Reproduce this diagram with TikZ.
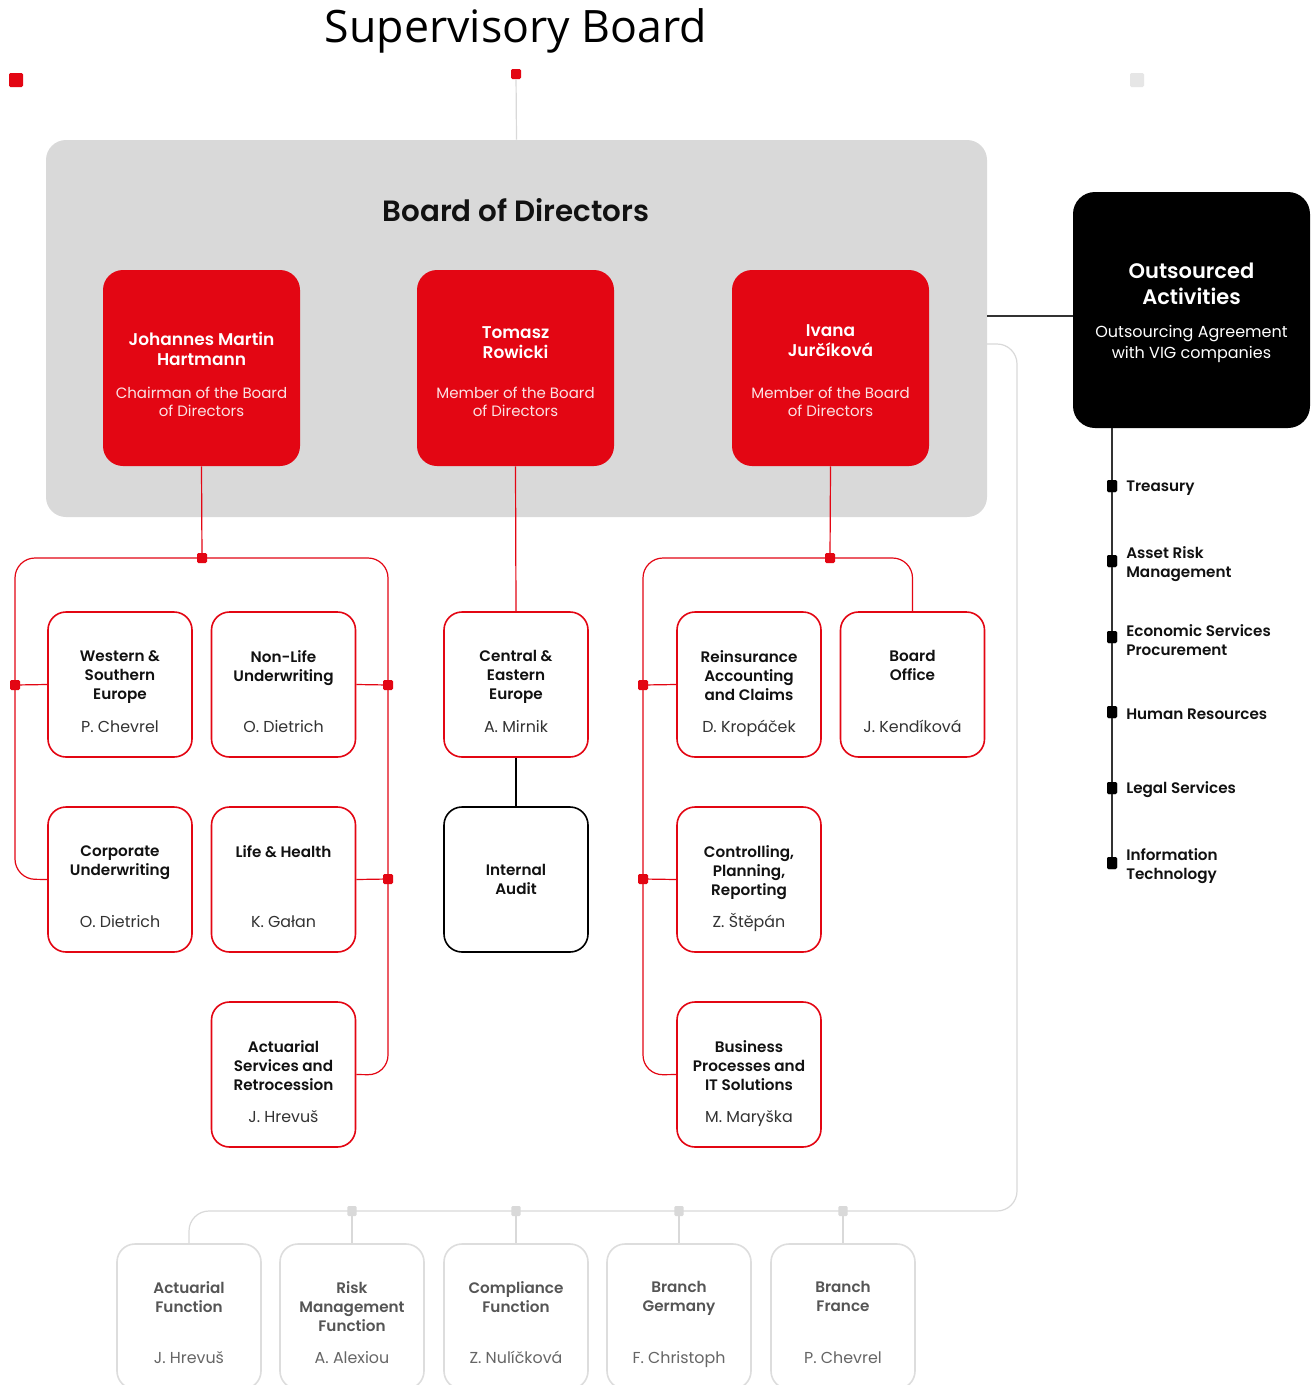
\documentclass[tikz,border=0pt]{standalone}
\usepackage{fontspec}
\setmainfont{Poppins}[BoldFont={Poppins SemiBold}]
\newfontfamily\titlefont{Open Sans}
\definecolor{vred}{HTML}{E30613}
\definecolor{lgrey}{HTML}{D9D9D9}
\definecolor{bgrey}{HTML}{DDDDDD}
\definecolor{sqgrey}{HTML}{E6E6E6}
\definecolor{txt}{HTML}{111111}
\definecolor{txtg}{HTML}{333333}
\definecolor{btitle}{HTML}{555555}
\definecolor{bname}{HTML}{666666}
\definecolor{pinkw}{HTML}{FBE3E4}
\definecolor{sline}{HTML}{333333}
\newcommand\obox[5]{%
  \node[#1] (#2) at (#3) {};
  \node[ttl] (#2t) at ([yshift=-29.25pt]#2.north) {#4};
  \node[nme] (#2n) at ([yshift=-91.1pt]#2.north) {#5};}
\newcommand\gobox[4]{%
  \node[gbox] (#1) at (#2) {};
  \node[ttl,text=btitle] (#1t) at ([yshift=-28.5pt]#1.north) {#3};
  \node[nme,text=bname] (#1n) at ([yshift=-90pt]#1.north) {#4};}
\begin{document}
\begin{tikzpicture}[x=0.75pt,y=-0.75pt,
  rline/.style={draw=vred, line width=0.9pt},
  gline/.style={draw=lgrey, line width=0.9pt},
  kline/.style={draw=sline, line width=0.9pt},
  wbox/.style={draw=vred, line width=1.2pt, fill=white, rounded corners=13.5pt,
     minimum width=108pt, minimum height=108.75pt, inner sep=0pt},
  kbox/.style={wbox, draw=black},
  gbox/.style={wbox, draw=bgrey},
  rbox/.style={fill=vred, rounded corners=15pt, minimum width=147.75pt,
     minimum height=147pt, inner sep=0pt},
  ttl/.style={font=\bfseries\fontsize{11.4}{14.25}\selectfont, align=center,
     anchor=north, inner sep=0pt, text=txt},
  nme/.style={font=\fontsize{11.9}{14.25}\selectfont, anchor=base,
     inner sep=0pt, text=txtg},
  rname/.style={font=\bfseries\fontsize{12.75}{15}\selectfont, align=center,
     anchor=north, inner sep=0pt, text=white},
  rrole/.style={font=\fontsize{11.25}{13.5}\selectfont, align=center,
     anchor=north, inner sep=0pt, text=pinkw},
  rsq/.style={fill=vred, minimum size=7.5pt, inner sep=0pt, rounded corners=1pt},
  gsq/.style={fill=lgrey, minimum width=7pt, minimum height=7.5pt, inner sep=0pt, rounded corners=1pt},
  bsq/.style={fill=black, minimum width=7.5pt, minimum height=9pt, inner sep=0pt, rounded corners=1pt},
  slab/.style={font=\bfseries\fontsize{11.4}{14.25}\selectfont, align=left,
     anchor=west, inner sep=0pt, text=txt}
]
\clip (0,0) rectangle (1314,1385);
\fill[white] (0,0) rectangle (1314,1385);

% title
\node[font=\titlefont\fontsize{33.5}{38}\selectfont, text=black, inner sep=0pt] (sb) at (516,31) {Supervisory Board};
\node[fill=vred, minimum size=10.5pt, inner sep=0pt, rounded corners=1pt] (sqa) at (16,80) {};
\node[fill=sqgrey, minimum size=10.5pt, inner sep=0pt, rounded corners=1pt] (sqb) at (1137,80) {};

% board of directors
\node[fill=lgrey, rounded corners=15pt, minimum width=705.75pt, minimum height=282.75pt, inner sep=0pt] (bod) at (516.5,328.5) {};
\node[font=\bfseries\fontsize{22}{26}\selectfont, text=txt, inner sep=0pt] (bodt) at (516,210) {Board of Directors};
\node[rsq] (sqt) at (516,74) {};
\draw[gline] (sqt) -- (bod.north);

% red boxes
\node[rbox] (jmh) at (201.5,368) {};
\node[rname] (jmhn) at ([yshift=-46.5pt]jmh.north) {Johannes Martin\\Hartmann};
\node[rrole] (jmhr) at ([yshift=-87.75pt]jmh.north) {Chairman of the Board\\of Directors};
\node[rbox] (tro) at (515.5,368) {};
\node[rname] (tron) at ([yshift=-42.75pt]tro.north) {Tomasz\\Rowicki};
\node[rrole] (tror) at ([yshift=-87.75pt]tro.north) {Member of the Board\\of Directors};
\node[rbox] (iju) at (830.5,368) {};
\node[rname] (ijun) at ([yshift=-41.25pt]iju.north) {Ivana\\Jurčíková};
\node[rrole] (ijur) at ([yshift=-87.75pt]iju.north) {Member of the Board\\of Directors};

% outsourced
\node[fill=black, rounded corners=16.5pt, minimum width=177.75pt, minimum height=177pt, inner sep=0pt] (oa) at (1191.5,310) {};
\node[font=\bfseries\fontsize{15.75}{19.5}\selectfont, text=white, align=center, anchor=north, inner sep=0pt] (oat) at ([yshift=-52.9pt]oa.north) {Outsourced\\Activities};
\node[font=\fontsize{12}{15.75}\selectfont, text=white, align=center, anchor=north, inner sep=0pt] (oas) at ([yshift=-100pt]oa.north) {Outsourcing Agreement\\with VIG companies};
\coordinate (oal) at (987,316);
\draw[kline] (oal) -- (oal -| oa.west);

% white boxes
\obox{wbox}{wse}{120,684.5}{Western \&\\Southern\\Europe}{P. Chevrel}
\obox{wbox}{nlu}{283.5,684.5}{Non-Life\\Underwriting}{O. Dietrich}
\obox{wbox}{cor}{120,879.5}{Corporate\\Underwriting}{O. Dietrich}
\obox{wbox}{lnh}{283.5,879.5}{Life \& Health}{K. Gałan}
\obox{wbox}{asr}{283.5,1074.5}{Actuarial\\Services and\\Retrocession}{J. Hrevuš}
\obox{wbox}{cee}{516,684.5}{Central \&\\Eastern\\Europe}{A. Mirnik}
\node[kbox] (iau) at (516,879.5) {};
\node[ttl, anchor=center] (iaut) at (iau.center) {Internal\\Audit};
\obox{wbox}{rac}{749,684.5}{Reinsurance\\Accounting\\and Claims}{D. Kropáček}
\obox{wbox}{bof}{912.5,684.5}{Board\\Office}{J. Kendíková}
\obox{wbox}{cpr}{749,879.5}{Controlling,\\Planning,\\Reporting}{Z. Štěpán}
\obox{wbox}{bpi}{749,1074.5}{Business\\Processes and\\IT Solutions}{M. Maryška}

% left group connectors
\coordinate (lj0) at (202,558);
\draw[rline] (jmh.south) -- (lj0);
\draw[rline, rounded corners=15pt] (lj0) -- (15,558) -- (15,879) -- (cor.west);
\draw[rline, rounded corners=15pt] (lj0) -- (388,558) -- (388,1075) -- (asr.east);
\coordinate (ld1) at (15,685);
\coordinate (rd1) at (388,685);
\coordinate (rd2) at (388,879);
\draw[rline] (ld1) -- (wse.west);
\draw[rline] (rd1) -- (nlu.east);
\draw[rline] (rd2) -- (lnh.east);
\node[rsq] (lj) at (lj0) {};
\node[rsq] (ld1s) at (ld1) {};
\node[rsq] (rd1s) at (rd1) {};
\node[rsq] (rd2s) at (rd2) {};

% center connectors
\draw[rline] (tro.south) -- (cee.north);
\draw[kline, draw=black] (cee.south) -- (iau.north);

% right group connectors
\coordinate (rj0) at (830,558);
\draw[rline] (iju.south) -- (rj0);
\draw[rline, rounded corners=15pt] (rj0) -- (643,558) -- (643,1075) -- (bpi.west);
\draw[rline, rounded corners=15pt] (rj0) -- (912.5,558) -- (bof.north);
\coordinate (md1) at (643,685);
\coordinate (md2) at (643,879);
\draw[rline] (md1) -- (rac.west);
\draw[rline] (md2) -- (cpr.west);
\node[rsq] (rj) at (rj0) {};
\node[rsq] (md1s) at (md1) {};
\node[rsq] (md2s) at (md2) {};

% side list
\coordinate (otop) at (1112,428);
\node[bsq] (s1) at (1112,486) {};
\node[bsq] (s2) at (1112,561) {};
\node[bsq] (s3) at (1112,637) {};
\node[bsq] (s4) at (1112,712) {};
\node[bsq] (s5) at (1112,788) {};
\node[bsq] (s6) at (1112,863) {};
\draw[kline] (otop) -- (s6.center);
\foreach \s in {s1,s2,s3,s4,s5,s6} \node[bsq] at (\s) {};
\node[slab] (l1) at (1126,488) {Treasury};
\node[slab] (l2) at (1126,564.5) {Asset Risk\\Management};
\node[slab] (l3) at (1126,640) {Economic Services\\Procurement};
\node[slab] (l4) at (1126,714) {Human Resources};
\node[slab] (l5) at (1126,790) {Legal Services};
\node[slab] (l6) at (1126,866) {Information\\Technology};

% bottom boxes
\gobox{af}{189,1316.5}{Actuarial\\Function}{J. Hrevuš}
\gobox{rmf}{352,1316.5}{Risk\\Management\\Function}{A. Alexiou}
\gobox{cf}{516,1316.5}{Compliance\\Function}{Z. Nulíčková}
\gobox{bg}{679,1316.5}{Branch\\Germany}{F. Christoph}
\gobox{bfr}{843,1316.5}{Branch\\France}{P. Chevrel}
\coordinate (g0) at (987,344);
\draw[gline, rounded corners=15pt] (g0) -- (1017,344) -- (1017,1211) -- (189,1211) -- (af.north);
\coordinate (gj1) at (352,1211);
\coordinate (gj2) at (516,1211);
\coordinate (gj3) at (679,1211);
\coordinate (gj4) at (843,1211);
\draw[gline] (gj1) -- (rmf.north);
\draw[gline] (gj2) -- (cf.north);
\draw[gline] (gj3) -- (bg.north);
\draw[gline] (gj4) -- (bfr.north);
\node[gsq] (gs1) at (gj1) {};
\node[gsq] (gs2) at (gj2) {};
\node[gsq] (gs3) at (gj3) {};
\node[gsq] (gs4) at (gj4) {};
\end{tikzpicture}
\end{document}
